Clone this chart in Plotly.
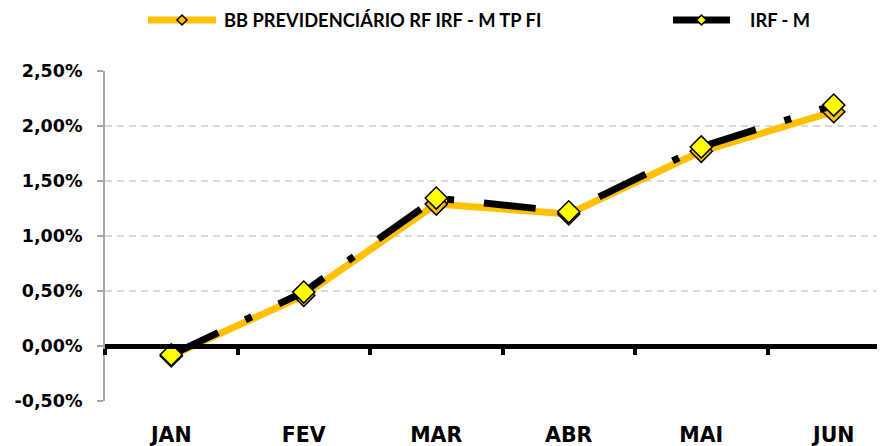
import plotly.graph_objects as go

months = ["JAN", "FEV", "MAR", "ABR", "MAI", "JUN"]
bb_fund = [-0.09, 0.46, 1.29, 1.20, 1.77, 2.13]
irf_m = [-0.08, 0.49, 1.345, 1.22, 1.81, 2.19]
y_ticks = [-0.5, 0.0, 0.5, 1.0, 1.5, 2.0, 2.5]
series_names = ["BB PREVIDENCIÁRIO RF IRF - M TP FI", "IRF - M"]

ORANGE = "#FFC000"
YELLOW = "#FFFF00"
AXFONT = "DejaVu Sans"
LEGFONT = "Lato"

xs = list(range(len(months)))
fig = go.Figure()
fig.add_trace(go.Scatter(
    x=xs, y=bb_fund, mode="lines+markers", name=series_names[0],
    line=dict(color=ORANGE, width=7),
    marker=dict(symbol="diamond", size=17, color=ORANGE, line=dict(color="black", width=1.5)),
    cliponaxis=False, showlegend=False))
fig.add_trace(go.Scatter(
    x=xs, y=irf_m, mode="lines", name=series_names[1],
    line=dict(color="black", width=7, dash="52px,30px,7px,30px"),
    cliponaxis=False, showlegend=False))
fig.add_trace(go.Scatter(
    x=xs, y=irf_m, mode="markers", name=series_names[1],
    marker=dict(symbol="diamond", size=17, color=YELLOW, line=dict(color="black", width=1.5)),
    cliponaxis=False, showlegend=False))

# page offset (body margin) and plot area geometry in window pixels
OFF = 8
FW, FH = 885 - OFF, 446 - OFF
L, R, T, B = 105 - OFF, 885 - OFF, 71 - OFF, 401 - OFF
W, H = R - L, B - T
xr = [-0.5, -0.5 + W / 132.5]
yr = [-0.5, 2.5]

fig.update_layout(
    width=FW, height=FH,
    margin=dict(l=L, r=FW - R, t=T, b=FH - B, autoexpand=False),
    paper_bgcolor="white", plot_bgcolor="white",
    font=dict(family=AXFONT, color="black"),
    xaxis=dict(range=xr, anchor="free", position=(0 - yr[0]) / (yr[1] - yr[0]),
               tickmode="array", tickvals=[i - 0.5 for i in xs], ticktext=[""] * len(xs),
               ticks="outside", ticklen=6, tickwidth=4, tickcolor="black",
               showline=True, linecolor="black", linewidth=4.5, automargin=False,
               showgrid=False, zeroline=False, showticklabels=False),
    xaxis2=dict(range=xr, overlaying="x", anchor="y", side="bottom",
                tickmode="array", tickvals=xs, ticktext=months, automargin=False,
                ticks="", showline=False, showgrid=False, zeroline=False,
                tickfont=dict(family=AXFONT, size=20.5, color="black", weight="bold"),
                ticklabelstandoff=19),
    yaxis=dict(range=yr, tickmode="array", tickvals=y_ticks,
               ticktext=[f"{v:.2f}%".replace(".", ",") for v in y_ticks],
               ticks="outside", ticklen=6, tickwidth=1.5, tickcolor="#A6A6A6",
               showline=True, linecolor="#A6A6A6", linewidth=2, automargin=False,
               showgrid=True, gridcolor="#D9D9D9", gridwidth=1.5, griddash="7px,5px",
               zeroline=False, ticklabelstandoff=11,
               tickfont=dict(family=AXFONT, size=17.5, color="black", weight="bold")),
)

# invisible trace to bind xaxis2
fig.add_trace(go.Scatter(x=[xs[0]], y=[None], xaxis="x2", mode="lines", showlegend=False, hoverinfo="skip"))

# custom legend (positions given in window pixels)
def px_x(p):
    return (p - OFF - L) / W

def px_y(p):
    return (B - (p - OFF)) / H

legend_y = 20
shapes = []
annotations = []
legend_items = [
    (series_names[0], ORANGE, ORANGE, 145, 219, 222),
    (series_names[1], "black", YELLOW, 670, 733, 748),
]
for name, lc, mc, x0, x1, tx in legend_items:
    shapes.append(dict(type="line", xref="paper", yref="paper",
                       x0=px_x(x0 + 3), x1=px_x(x1 - 3), y0=px_y(legend_y), y1=px_y(legend_y),
                       line=dict(color=lc, width=7)))
    cx = (x0 + x1) / 2
    d = 5
    path = (f"M {px_x(cx - d)} {px_y(legend_y)} L {px_x(cx)} {px_y(legend_y - d)} "
            f"L {px_x(cx + d)} {px_y(legend_y)} L {px_x(cx)} {px_y(legend_y + d)} Z")
    shapes.append(dict(type="path", xref="paper", yref="paper", path=path,
                       fillcolor=mc, line=dict(color="black", width=1.5)))
    annotations.append(dict(text=name, xref="paper", yref="paper", x=px_x(tx), y=px_y(legend_y),
                            xanchor="left", yanchor="middle", showarrow=False,
                            font=dict(family=LEGFONT, size=18.3, color="black", weight="bold")))
fig.update_layout(shapes=shapes, annotations=annotations)

fig.write_html("out.html")
